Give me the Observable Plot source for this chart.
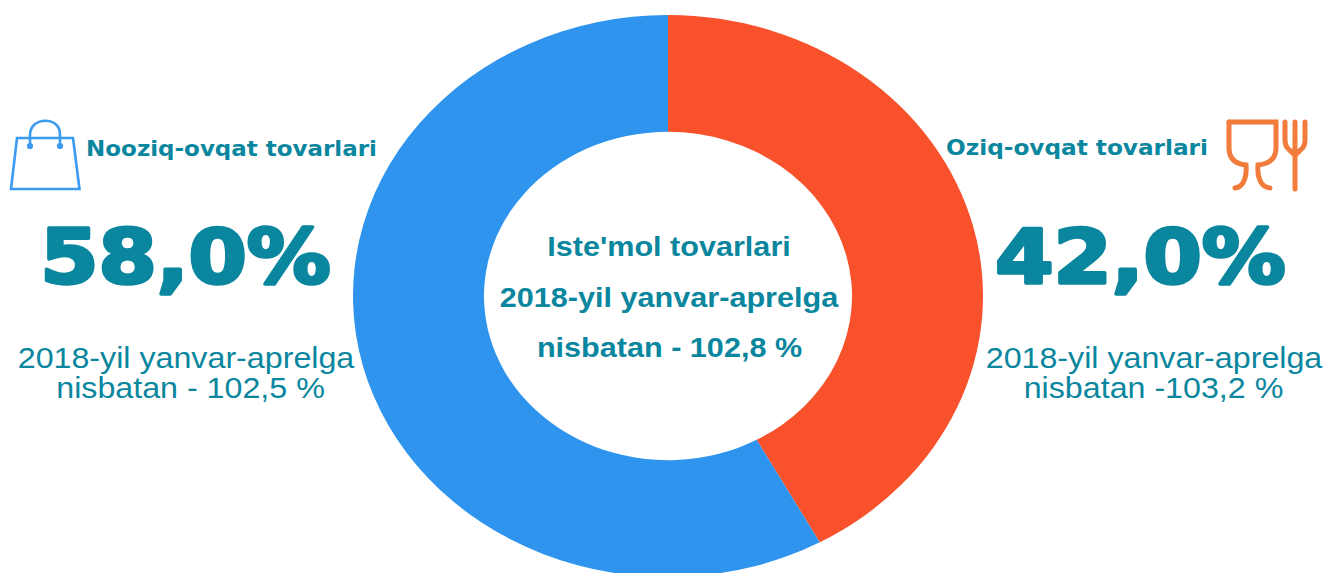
<!DOCTYPE html>
<html><head><meta charset="utf-8">
<script src="https://cdn.jsdelivr.net/npm/d3@7"></script>
<script src="https://cdn.jsdelivr.net/npm/@observablehq/plot@0.6"></script>
<style>html,body{margin:0;padding:0;background:#fff;overflow:hidden}svg{display:block}</style>
</head><body><div id="chart"></div>
<script>
const categories = ["Oziq-ovqat tovarlari", "Nooziq-ovqat tovarlari"];
const shares = [42.0, 58.0];
const shareLabels = ["42,0%", "58,0%"];
const colors = ["#F8512B", "#2F94ED"];
const centerLines = ["Iste'mol tovarlari", "2018-yil yanvar-aprelga", "nisbatan - 102,8 %"];
const leftNote = ["2018-yil yanvar-aprelga", "nisbatan - 102,5 %"];
const rightNote = ["2018-yil yanvar-aprelga", "nisbatan -103,2 %"];
const teal = "#0A869E";

const slices = categories.map((c, i) => ({category: c, share: shares[i]}));
const W = 1327, H = 573;
const cx = 668, cy = 296, rx = 315, ry = 281, inner = 184;
const stretch = rx / ry;

function donut(index, scales, values, dim, ctx) {
  const g = d3.select(ctx.document.createElementNS("http://www.w3.org/2000/svg", "g"))
    .attr("transform", `translate(${cx},${cy}) scale(1,${ry / rx})`);
  const pie = d3.pie().sort(null).value(d => d.share)(slices);
  const arc = d3.arc().innerRadius(inner).outerRadius(rx);
  g.selectAll("path").data(pie).join("path")
    .attr("d", arc)
    .attr("fill", d => scales.color(d.data.category));
  return g.node();
}
function icons(index, scales, values, dim, ctx) {
  const g = d3.select(ctx.document.createElementNS("http://www.w3.org/2000/svg", "g"))
    .attr("fill", "none").attr("stroke-linejoin", "miter");
  const bag = g.append("g").attr("stroke", "#3A9BF0").attr("stroke-width", 2.6);
  bag.append("path").attr("d", "M17 138H73L79.5 189H11Z");
  bag.append("path").attr("d", "M30 146V135C30 116 61 116 60 135V146");
  bag.append("circle").attr("cx", 30).attr("cy", 146).attr("r", 1.8).attr("fill", "#3A9BF0");
  bag.append("circle").attr("cx", 60).attr("cy", 146).attr("r", 1.8).attr("fill", "#3A9BF0");
  const f = g.append("g").attr("stroke", "#F27C3C").attr("stroke-width", 5).attr("stroke-linecap", "round");
  f.append("path").attr("d", "M1229 122H1276V148C1276 160 1268 164 1258 165C1257 176 1260 187 1270 188");
  f.append("path").attr("d", "M1229 122V148C1229 160 1237 164 1246 165C1247 176 1244 187 1235 188");
  f.append("path").attr("d", "M1285 122V140C1285 150 1292 150 1295 156M1295 122V150M1305 122V140C1305 150 1298 150 1295 156V189");
  return g.node();
}

const labelRows = [
  {t: categories[1], x: 231, y: 149, s: 20.5, w: 700, f: "DejaVu Sans"},
  {t: categories[0], x: 1076.5, y: 148, s: 20.7, w: 700, f: "DejaVu Sans"},
  {t: shareLabels[1], x: 185, y: 259, s: 74.7, w: 700, f: "DejaVu Sans", sw: 3.5},
  {t: shareLabels[0], x: 1140, y: 259, s: 74.7, w: 700, f: "DejaVu Sans", sw: 3.5},
  {t: leftNote[0], x: 185.5, y: 358, s: 28.75, w: 400, f: "Liberation Sans"},
  {t: leftNote[1], x: 190, y: 388, s: 28.75, w: 400, f: "Liberation Sans"},
  {t: rightNote[0], x: 1153.5, y: 358, s: 28.75, w: 400, f: "Liberation Sans"},
  {t: rightNote[1], x: 1153, y: 388, s: 28.75, w: 400, f: "Liberation Sans"},
  {t: centerLines[0], x: 668.5, y: 247, s: 27.3, w: 700, f: "Liberation Sans"},
  {t: centerLines[1], x: 668.5, y: 298, s: 27.3, w: 700, f: "Liberation Sans"},
  {t: centerLines[2], x: 669, y: 348, s: 27.3, w: 700, f: "Liberation Sans"}
];
const widen = (index, scales, values, dim, ctx, next) => {
  const g = next(index, scales, values, dim, ctx);
  d3.select(g).selectAll("text").attr("transform", function() {
    return `${this.getAttribute("transform") || ""} scale(${stretch},1)`;
  });
  return g;
};
const textMarks = d3.groups(labelRows, d => `${d.s}|${d.w}|${d.f}`).map(([, rows]) =>
  Plot.text(rows, {x: "x", y: "y", text: "t", fill: teal, stroke: rows[0].sw ? teal : "none",
    strokeWidth: rows[0].sw || 0, fontSize: rows[0].s,
    fontWeight: rows[0].w, fontFamily: rows[0].f, textAnchor: "middle", lineAnchor: "middle",
    render: widen}));

const chart = Plot.plot({
  width: W, height: H, margin: 0,
  style: {background: "#fff"},
  x: {domain: [0, W], range: [0, W], axis: null},
  y: {domain: [0, H], range: [0, H], axis: null},
  color: {domain: categories, range: colors},
  marks: [donut, icons, ...textMarks]
});
document.getElementById("chart").append(chart);
</script></body></html>
